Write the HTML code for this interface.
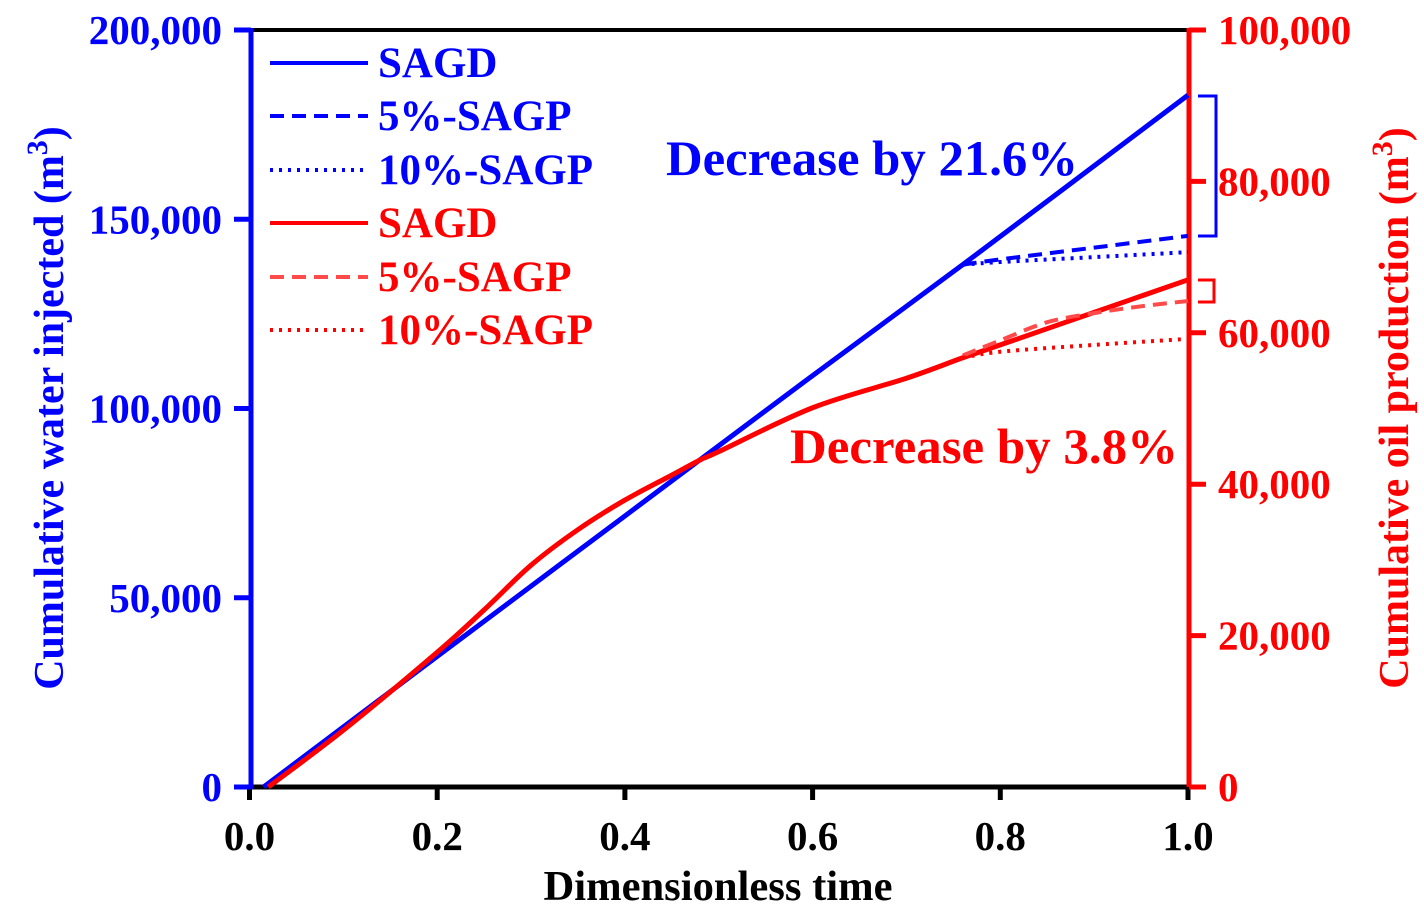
<!DOCTYPE html>
<html><head><meta charset="utf-8"><style>
body{margin:0;background:#fff}
svg text{font-family:"Liberation Serif",serif;font-weight:bold}
</style></head><body>
<svg id="c" width="1424" height="916" xmlns="http://www.w3.org/2000/svg"></svg>
<script>
const xTicks=[0,0.2,0.4,0.6,0.8,1.0];
const xTickLabels=["0.0","0.2","0.4","0.6","0.8","1.0"];
const leftTicks=[0,50000,100000,150000,200000];
const leftTickLabels=["0","50,000","100,000","150,000","200,000"];
const rightTicks=[0,20000,40000,60000,80000,100000];
const rightTickLabels=["0","20,000","40,000","60,000","80,000","100,000"];
const waterSagdX=[0.015,0.2,0.4,0.6,0.76,1.0];
const waterSagdY=[0,34500,71600,108700,138000,182800];
const water5X=[0.76,0.8,0.9,1.0];
const water5Y=[138000,139400,142500,145600];
const water10X=[0.76,0.8,0.9,1.0];
const water10Y=[138000,138700,140000,141300];
const oilSagdX=[0.02,0.1,0.2,0.25,0.3,0.35,0.4,0.45,0.48,0.5,0.6,0.7,0.76,0.8,0.9,1.0];
const oilSagdY=[0,7500,17800,23400,29300,34000,37900,41200,43200,44300,50100,54000,56700,58400,62700,67000];
const oil5X=[0.76,0.8,0.85,0.9,0.95,1.0];
const oil5Y=[57000,59000,61400,62600,63500,64200];
const oil10X=[0.76,0.8,0.9,1.0];
const oil10Y=[56700,57500,58400,59200];

const NS="http://www.w3.org/2000/svg",svg=document.getElementById('c');
const X=v=>249.5+v*938.5, YL=v=>787-v/200000*757, YR=v=>787-v/100000*757;
function el(t,a,p){const e=document.createElementNS(NS,t);for(const k in a)e.setAttribute(k,a[k]);(p||svg).appendChild(e);return e;}
function txt(s,a){const e=el('text',a);e.textContent=s;return e;}
function smooth(pts){
  let d='M'+pts[0][0]+','+pts[0][1];
  for(let i=0;i<pts.length-1;i++){
    const p0=pts[i-1]||pts[i],p1=pts[i],p2=pts[i+1],p3=pts[i+2]||p2;
    const c1=[p1[0]+(p2[0]-p0[0])/6,p1[1]+(p2[1]-p0[1])/6],c2=[p2[0]-(p3[0]-p1[0])/6,p2[1]-(p3[1]-p1[1])/6];
    d+=' C'+c1+' '+c2+' '+p2;
  }
  return d;
}
function series(xs,ys,Y,col,dash,name){
  const pts=xs.map((x,i)=>[X(x),Y(ys[i])]);
  const p=el('path',{d:smooth(pts),fill:'none',stroke:col,'stroke-width':dash?4:5,'stroke-dasharray':dash||'none'});
  
  
}
// frame
el('line',{x1:249,y1:30,x2:1188,y2:30,stroke:'#000','stroke-width':4});
el('line',{x1:249,y1:787,x2:1188,y2:787,stroke:'#000','stroke-width':5});
const la=el('line',{x1:251,y1:28,x2:251,y2:789,stroke:'#0000ff','stroke-width':5});

const ra=el('line',{x1:1189,y1:28,x2:1189,y2:789,stroke:'#ff0000','stroke-width':5});

xTicks.forEach((v,i)=>{el('line',{x1:X(v),y1:787,x2:X(v),y2:800,stroke:'#000','stroke-width':5});
 const t=txt(xTickLabels[i],{x:X(v),y:850,'font-size':41,'text-anchor':'middle',fill:'#000'});
 });
leftTicks.forEach((v,i)=>{el('line',{x1:234,y1:YL(v),x2:251,y2:YL(v),stroke:'#0000ff','stroke-width':5});
 const t=txt(leftTickLabels[i],{x:222,y:YL(v)+14,'font-size':41,'text-anchor':'end',fill:'#0000ff'});
 });
rightTicks.forEach((v,i)=>{el('line',{x1:1189,y1:YR(v),x2:1206,y2:YR(v),stroke:'#ff0000','stroke-width':5});
 const t=txt(rightTickLabels[i],{x:1218,y:YR(v)+14,'font-size':41,fill:'#ff0000'});
 });
// series
series(waterSagdX,waterSagdY,YL,'#0000ff',null,'water-sagd-line');
series(water5X,water5Y,YL,'#0000ff','14 8','water-5-sagp-line');
series(water10X,water10Y,YL,'#0000ff','3 6','water-10-sagp-line');
series(oilSagdX,oilSagdY,YR,'#ff0000',null,'oil-sagd-line');
series(oil5X,oil5Y,YR,'#ff4a4a','14 8','oil-5-sagp-line');
series(oil10X,oil10Y,YR,'#ff0000','3 6','oil-10-sagp-line');
// brackets
el('polyline',{points:'1198,96 1216,96 1216,236 1198,236',fill:'none',stroke:'#0000ff','stroke-width':3});
el('polyline',{points:'1198,280 1214,280 1214,302 1198,302',fill:'none',stroke:'#ff0000','stroke-width':3});
// annotations
let a=txt('Decrease by 21.6%',{x:666,y:175,'font-size':50,fill:'#0000ff',textLength:412,lengthAdjust:'spacingAndGlyphs'});
a=txt('Decrease by 3.8%',{x:790,y:463,'font-size':50,fill:'#ff0000',textLength:388,lengthAdjust:'spacingAndGlyphs'});
// legend
const leg=[['SAGD','#0000ff',null],['5%-SAGP','#0000ff','14 8'],['10%-SAGP','#0000ff','3 6'],['SAGD','#ff0000',null],['5%-SAGP','#ff4a4a','14 8'],['10%-SAGP','#ff0000','3 6']];
const ys=[63,116,170,223,277,330];
leg.forEach((l,i)=>{
 const g=el('g',{});
 el('line',{x1:270,y1:ys[i],x2:368,y2:ys[i],stroke:l[1],'stroke-width':4,'stroke-dasharray':l[2]||'none'},g);
 const t=el('text',{x:378,y:ys[i]+14,'font-size':43,fill:l[1]==='#ff4a4a'?'#ff0000':l[1]},g);t.textContent=l[0];
});
// axis titles
a=txt('Dimensionless time',{x:718,y:900,'font-size':42,'text-anchor':'middle',fill:'#000',textLength:349,lengthAdjust:'spacingAndGlyphs'});
a=el('text',{x:0,y:0,'font-size':42,'text-anchor':'middle',fill:'#0000ff',transform:'translate(63,408) rotate(-90)'});
a.innerHTML='Cumulative water injected (m<tspan dy="-16" font-size="30">3</tspan><tspan dy="16">)</tspan>';

a=el('text',{x:0,y:0,'font-size':42,'text-anchor':'middle',fill:'#ff0000',transform:'translate(1408,408) rotate(-90)'});
a.innerHTML='Cumulative oil production (m<tspan dy="-16" font-size="30">3</tspan><tspan dy="16">)</tspan>';

</script>
</body></html>
